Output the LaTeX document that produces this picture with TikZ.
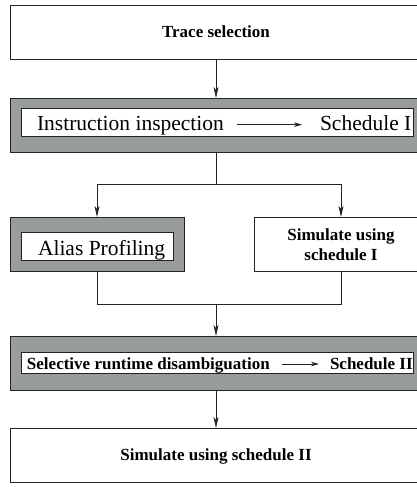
\documentclass[tikz,border=0pt]{standalone}
\usepackage{fontspec}
\setmainfont{Liberation Serif}
\usetikzlibrary{arrows.meta}
\definecolor{boxgray}{RGB}{152,157,156}
\definecolor{linecol}{RGB}{35,35,35}
\tikzset{
  box/.style={draw=linecol, line width=0.9pt, fill=white, inner sep=0pt, outer sep=0pt},
  graybox/.style={box, fill=boxgray},
  bold/.style={font=\fontsize{17}{20}\selectfont\bfseries, inner sep=0pt, outer sep=0pt},
  reg/.style={font=\fontsize{21.5}{24}\selectfont, inner sep=0pt, outer sep=0pt},
  conn/.style={draw=linecol, line width=0.8pt},
  arr/.style={conn, -{Stealth[length=11pt,width=5pt,inset=3pt]}},
  smallarr/.style={conn, -{Stealth[length=8pt,width=4.5pt,inset=2.5pt]}}
}
\begin{document}
\begin{tikzpicture}[x=1pt,y=-1pt]
\useasboundingbox (0,0) rectangle (417,487);
\clip (0,0) rectangle (417,487);
% boxes
\node[box, minimum width=412pt, minimum height=54pt] (top) at (216,32) {};
\node[bold, anchor=base] (ttop) at (216,37.7) {Trace selection};

\node[graybox, minimum width=412pt, minimum height=54pt] (g2) at (216,125) {};
\node[box, minimum width=392pt, minimum height=28pt] (w2) at (217,122) {};
\node[reg, anchor=base west] (ii) at (37,130) {Instruction inspection};
\node[reg, anchor=base west] (s1) at (320,130) {Schedule I};

\node[graybox, minimum width=174pt, minimum height=54pt] (alias) at (97,244) {};
\node[box, minimum width=152pt, minimum height=27.6pt] (walias) at (97,246.5) {};
\node[reg, anchor=base west] (talias) at (38,255.7) {Alias Profiling};

\node[box, minimum width=174pt, minimum height=54pt] (sim1) at (341,244) {};
\node[bold, align=center] (tsim1) at (341,245) {Simulate using\\schedule I};

\node[graybox, minimum width=412pt, minimum height=54pt] (g4) at (216,363) {};
\node[box, minimum width=392pt, minimum height=20.6pt] (w4) at (217,363) {};
\node[bold, anchor=base west] (srd) at (27,369) {Selective runtime disambiguation};
\node[bold, anchor=base west] (s2) at (330,369) {Schedule II};

\node[box, minimum width=412pt, minimum height=54pt] (bot) at (216,455) {};
\node[bold, anchor=base] (tbot) at (216,460.5) {Simulate using schedule II};

% inner arrows
\draw[smallarr, shorten <=13pt, shorten >=18pt] ([yshift=5.3pt]ii.base east) -- ([yshift=5.3pt]s1.base west);
\draw[smallarr, shorten <=12pt, shorten >=11pt] ([yshift=5pt]srd.base east) -- ([yshift=5pt]s2.base west);

% connectors
\draw[arr] (top.south) -- (g2.north);
\coordinate (split) at (216,184);
\draw[conn] (g2.south) -- (split);
\draw[arr] (split) -| (alias.north);
\draw[arr] (split) -| (sim1.north);
\coordinate (join) at (216,304);
\draw[conn] (alias.south) |- (join);
\draw[conn] (sim1.south) |- (join);
\draw[arr] (join) -- (g4.north);
\draw[arr] (g4.south) -- (bot.north);
\end{tikzpicture}
\end{document}
